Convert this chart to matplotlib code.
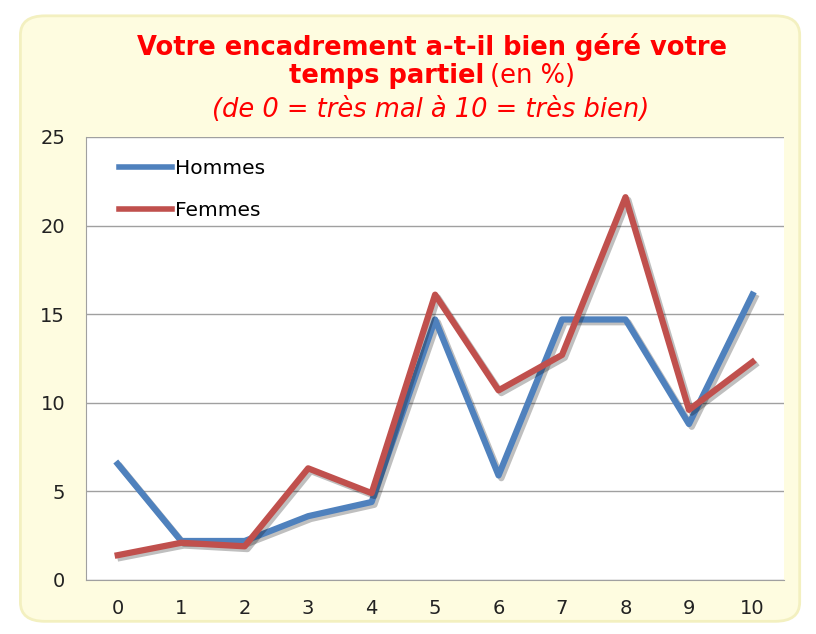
import matplotlib
matplotlib.use("Agg")
import matplotlib.pyplot as plt
import matplotlib.patheffects as pe
from matplotlib.patches import FancyBboxPatch
from matplotlib.lines import Line2D

notes = list(range(11))
hommes = [6.55, 2.2, 2.2, 3.6, 4.4, 14.7, 5.9, 14.7, 14.7, 8.8, 16.1]
femmes = [1.4, 2.1, 1.9, 6.3, 4.9, 16.1, 10.7, 12.7, 21.6, 9.6, 12.3]
yticks = [0, 5, 10, 15, 20, 25]

fig = plt.figure(figsize=(8.16, 6.34), dpi=100)
fig.patch.set_facecolor("white")

# rounded yellow background
bg = FancyBboxPatch((0.025, 0.02), 0.955, 0.955, boxstyle="round,pad=0,rounding_size=0.03",
                    transform=fig.transFigure, facecolor="#fefce0", edgecolor="#f3f0c0",
                    linewidth=2, zorder=-1)
fig.patches.append(bg)

ax = fig.add_axes([0.1054, 0.0852, 0.8556, 0.6988])
ax.set_facecolor("white")

shadow = [pe.SimpleLineShadow(offset=(2, -2), alpha=0.25, shadow_color="black"), pe.Normal()]
ax.plot(notes, hommes, color="#4f81bd", lw=4.5, path_effects=shadow)
ax.plot(notes, femmes, color="#c0504d", lw=4.5, path_effects=shadow)

ax.set_xlim(-0.5, 10.5)
ax.set_ylim(0, 25)
ax.set_xticks(notes)
ax.set_yticks(yticks)
ax.yaxis.grid(True, color="#a0a0a0", lw=1)
ax.set_axisbelow(True)
for s in ["top", "right"]:
    ax.spines[s].set_visible(False)
ax.spines["left"].set_color("#a0a0a0")
ax.spines["bottom"].set_color("#a0a0a0")
ax.tick_params(length=0, labelsize=14, colors="#222222")
ax.tick_params(axis="x", pad=14)
ax.tick_params(axis="y", pad=15)

handles = [Line2D([], [], color="#4f81bd", lw=4), Line2D([], [], color="#c0504d", lw=4)]
ax.legend(handles, ["Hommes", "Femmes"], loc="upper left", frameon=False, fontsize=14.5,
          handlelength=2.6, handletextpad=0.15, labelspacing=1.1,
          bbox_to_anchor=(0.022, 0.99))

red = "#ff0000"
fig.text(0.53, 0.926, "Votre encadrement a-t-il bien géré votre", ha="center", va="center",
         fontsize=18.5, fontweight="bold", color=red)
fig.text(0.593, 0.88, "temps partiel", ha="right", va="center",
         fontsize=18.5, fontweight="bold", color=red)
fig.text(0.600, 0.88, "(en %)", ha="left", va="center", fontsize=18.5, color=red)
fig.text(0.528, 0.826, "(de 0 = très mal à 10 = très bien)", ha="center", va="center",
         fontsize=18.5, style="italic", color=red)

fig.savefig("out.png", dpi=100)
